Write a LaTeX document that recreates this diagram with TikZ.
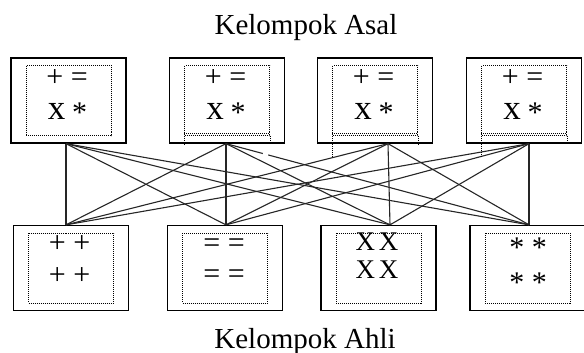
\documentclass[tikz,border=0pt]{standalone}
\usepackage{fontspec}
\setmainfont{Liberation Serif}
\usetikzlibrary{positioning,calc}
\begin{document}
\begin{tikzpicture} [
  x=1pt,y=-1pt,
  group box/.style= {draw,line width=1.3pt,minimum width=115pt,minimum height=85pt,inner sep=0},
  dots/.style= {line width=0.8pt,dash pattern=on 1pt off 1pt},
  inner box/.style= {draw,dots,minimum width=85pt,minimum height=70pt,inner sep=0},
  link/.style={line width=1.1pt,draw=black!85},
  title/.style={font=\fontsize{29}{32}\selectfont,inner sep=0},
  sign big/.style={font=\fontsize{35}{35}\selectfont,inner sep=0},
  sign/.style={font=\fontsize{30}{30}\selectfont,inner sep=0}
]
\useasboundingbox (0,0) rectangle (584,353);
\node (asal) [title,anchor=base] at (306,35) {Kelompok Asal};
\node (ahli) [title,anchor=base] at (305,348) {Kelompok Ahli};
\foreach \i/\x/\dx in {1/68.5/-2.5,2/227/-1,3/375/13,4/524/5} {
  \node (A\i) [group box] at (\x,100.5) {};
  \node (A\i in) [inner box] at (A\i) {};
  \node (A\i op) [sign,anchor=base] at (\x-1.5,86) {+ =};
  \node (A\i x) [sign big,anchor=base east] at (\x-3,120) {x};
  \node (A\i star) [sign,anchor=base west] at (\x+3.5,122) {*};
  \coordinate (a\i) at ([xshift=\dx pt]A\i.south);
}
\foreach \i/\x/\dx in {1/71/-5,2/225/1,3/378.5/11.5,4/527.5/1.5} {
  \node (B\i) [group box] at (\x,268) {};
  \node (B\i in) [inner box] at (B\i) {};
  \coordinate (b\i) at ([xshift=\dx pt]B\i.north);
}
\node (B1 top) [sign,anchor=base] at (69.5,252.6) {+ +};
\node (B1 bot) [sign,anchor=base] at (69.5,284.6) {+ +};
\node (B2 top) [sign,anchor=base] at (224,252.6) {= =};
\node (B2 bot) [sign,anchor=base] at (224,283.6) {= =};
\node (B3 top) [font=\fontsize{27}{27}\selectfont,inner sep=0,anchor=base] at (377,250) {X\hspace{4pt}X};
\node (B3 bot) [font=\fontsize{27}{27}\selectfont,inner sep=0,anchor=base] at (377,278) {X\hspace{4pt}X};
\node (B4 top) [sign,anchor=base] at (528,257) {* *};
\node (B4 bot) [sign,anchor=base] at (528,292) {* *};
\foreach \i in {1,...,4}
  \foreach \j in {1,...,4}
    \draw [link] (a\i) -- (b\j);
\path (a2) -- (b4) coordinate [pos=0.122] (gap start) coordinate [pos=0.139] (gap end);
\draw [white,line width=2.5pt] (gap start) -- (gap end);
\foreach \i/\l/\r in {2/9/6,3/21/9,4/22/5} {
  \draw [dots] ([yshift=2.5pt]A\i in.south west) -- ([yshift=2.5pt]A\i in.south east);
  \draw [dots] (A\i in.south west) -- ++(0,\l);
  \draw [dots] (A\i in.south east) -- ++(0,\r);
}
\end{tikzpicture}
\end{document}
